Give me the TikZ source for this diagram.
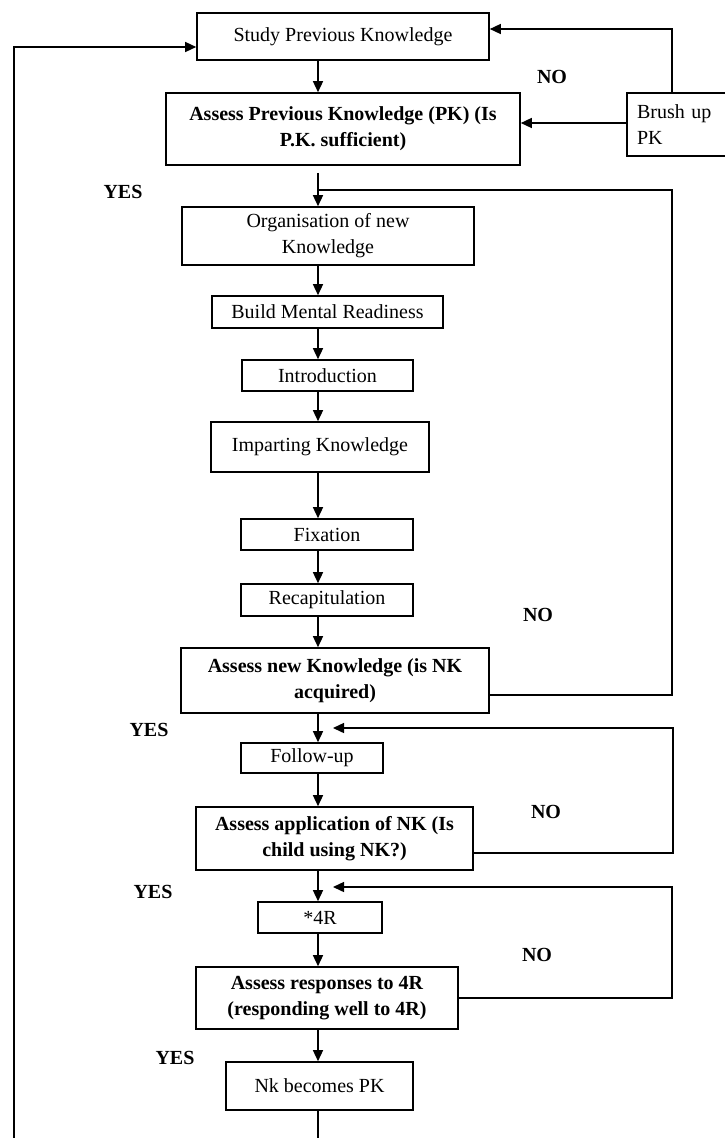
\documentclass[tikz,border=0pt]{standalone}
\usepackage{fontspec}
\setmainfont{Liberation Serif}
\usetikzlibrary{arrows.meta}
\begin{document}
\begin{tikzpicture}[x=1pt,y=-1pt,
  box/.style={draw, line width=1.6pt, align=center, inner sep=2pt, font=\fontsize{20}{26}\selectfont},
  bbox/.style={box, font=\fontsize{20}{26}\selectfont\bfseries},
  lbl/.style={font=\fontsize{20}{24}\selectfont\bfseries},
  arr/.style={line width=1.4pt, -{Triangle[length=11pt,width=10pt]}},
  ln/.style={line width=1.4pt}]
\useasboundingbox (0,0) rectangle (725,1138);
\fill[white] (0,0) rectangle (725,1138);

% boxes
\node[box, minimum width=292pt, minimum height=47pt] (study) at (343,36.5) {Study Previous Knowledge};
\node[bbox, minimum width=354pt, minimum height=72pt] (apk) at (343,129) {Assess Previous Knowledge (PK) (Is\\P.K. sufficient)};
\node[box, text width=81pt, inner xsep=10pt, minimum height=63pt, align=left] (brush) at (677.5,124.5) {Brush up\\PK};
\node[box, minimum width=292pt, minimum height=58pt] (org) at (328,236) {Organisation of new\\Knowledge};
\node[box, minimum width=231pt, minimum height=32pt] (bmr) at (327.5,312) {Build Mental Readiness};
\node[box, minimum width=171pt, minimum height=31pt] (intro) at (327.5,375.5) {Introduction};
\node[box, minimum width=218pt, minimum height=50pt] (impart) at (320,447) {Imparting Knowledge};
\node[box, minimum width=172pt, minimum height=31pt] (fix) at (327,534.5) {Fixation};
\node[box, minimum width=172pt, minimum height=32pt] (recap) at (327,600) {Recapitulation};
\node[bbox, minimum width=308pt, minimum height=65pt] (ank) at (335,680.5) {Assess new Knowledge (is NK\\acquired)};
\node[box, minimum width=142pt, minimum height=30pt] (fu) at (312,758) {Follow-up};
\node[bbox, minimum width=277pt, minimum height=63pt] (appl) at (334.5,838.5) {Assess application of NK (Is\\child using NK?)};
\node[box, minimum width=124pt, minimum height=31pt] (four) at (320,917.5) {*4R};
\node[bbox, minimum width=262pt, minimum height=62pt] (resp) at (327,998) {Assess responses to 4R\\(responding well to 4R)};
\node[box, minimum width=187pt, minimum height=48pt] (nkpk) at (319.5,1086) {Nk becomes PK};

% labels
\node[lbl] (no1) at (552,77) {NO};
\node[lbl] (yes1) at (123,192) {YES};
\node[lbl] (no2) at (538,615) {NO};
\node[lbl] (yes2) at (149,730) {YES};
\node[lbl] (no3) at (546,812) {NO};
\node[lbl] (yes3) at (153,892) {YES};
\node[lbl] (no4) at (537,955) {NO};
\node[lbl] (yes4) at (175,1058) {YES};

% helper coordinates
\coordinate (sp) at (318,0);
\coordinate (lb) at (14,1138);
\coordinate (la) at (14,47);
\coordinate (bt) at (672,29);
\coordinate (ba) at (0,123);
\coordinate (r1) at (672,190);
\coordinate (e1) at (0,695);
\coordinate (r2) at (673,728);
\coordinate (t2) at (333,728);
\coordinate (e2) at (0,853);
\coordinate (r3) at (672,887);
\coordinate (t3) at (333,887);
\coordinate (e3) at (0,998);
\coordinate (bb) at (318,1138);

% connectors
\draw[arr] (lb) -- (la) -- (la -| study.west);
\draw[arr] (study.south -| sp) -- (apk.north -| sp);
\draw[arr] (brush.north -| bt) -- (bt) -- (bt -| study.east);
\draw[arr] (brush.west |- ba) -- (apk.east |- ba);
\draw[arr] ([yshift=-7pt]apk.south -| sp) -- (org.north -| sp);
\draw[ln] (ank.east |- e1) -| (r1) -- (r1 -| sp);
\draw[arr] (org.south -| sp) -- (bmr.north -| sp);
\draw[arr] (bmr.south -| sp) -- (intro.north -| sp);
\draw[arr] (intro.south -| sp) -- (impart.north -| sp);
\draw[arr] (impart.south -| sp) -- (fix.north -| sp);
\draw[arr] (fix.south -| sp) -- (recap.north -| sp);
\draw[arr] (recap.south -| sp) -- (ank.north -| sp);
\draw[arr] (ank.south -| sp) -- (fu.north -| sp);
\draw[arr] (appl.east |- e2) -| (r2) -- (t2);
\draw[arr] (fu.south -| sp) -- (appl.north -| sp);
\draw[arr] (appl.south -| sp) -- (four.north -| sp);
\draw[arr] (resp.east |- e3) -| (r3) -- (t3);
\draw[arr] (four.south -| sp) -- (resp.north -| sp);
\draw[arr] (resp.south -| sp) -- (nkpk.north -| sp);
\draw[ln] (nkpk.south -| sp) -- (bb);
\end{tikzpicture}
\end{document}
